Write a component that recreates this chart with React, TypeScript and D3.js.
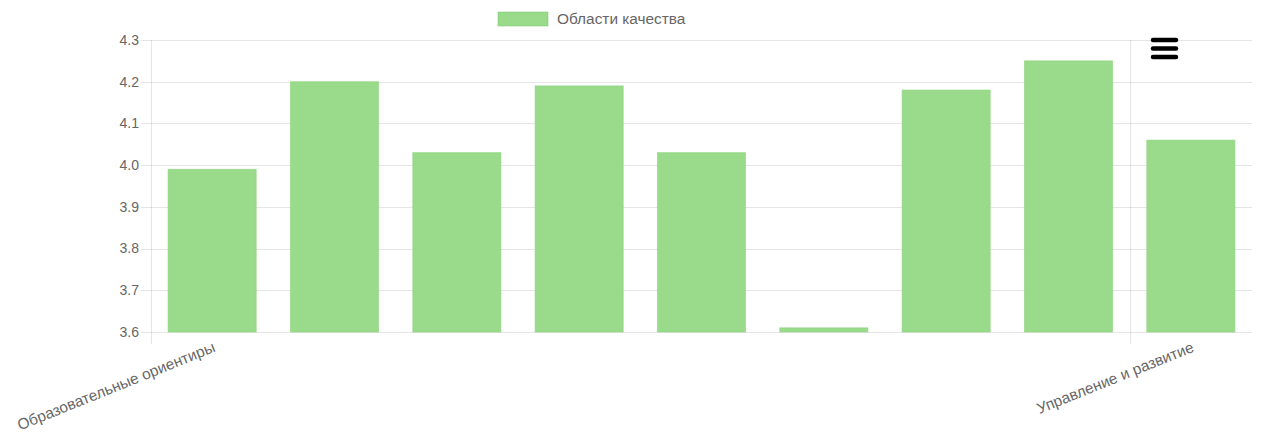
import React from "react";
import * as d3 from "d3";

const categories = [
  "Образовательные ориентиры",
  "Образовательные программы",
  "Содержание образовательной деятельности",
  "Образовательный процесс",
  "Образовательные условия",
  "Условия получения дошкольного образования лицами с ОВЗ",
  "Взаимодействие с родителями",
  "Здоровье, безопасность и повседневный уход",
  "Управление и развитие",
];
const values = [3.99, 4.2, 4.03, 4.19, 4.03, 3.61, 4.18, 4.25, 4.06];
const yTicks = [3.6, 3.7, 3.8, 3.9, 4.0, 4.1, 4.2, 4.3];
const shownLabels = [0, 8];
const seriesName = "Области качества";

const W = 1261;
const H = 438;
const left = 151;
const right = 1252;
const top = 40;
const bottom = 332;
const font = "'Liberation Sans', Arial, Helvetica, sans-serif";
const barColor = "#99db8a";
const gridColor = "rgba(0,0,0,0.1)";

export default function App() {
  const x = d3.scaleBand<number>().domain(d3.range(categories.length)).range([left, right]).paddingInner(0).paddingOuter(0);
  const y = d3.scaleLinear().domain([3.6, 4.3]).range([bottom, top]);
  const bw = x.bandwidth();
  const barW = bw * 0.72;
  return (
    <svg width={W} height={H} style={{ position: "absolute", left: 0, top: 0, background: "#fff" }}>
      {/* legend */}
      <rect x={498} y={12} width={50} height={14} fill={barColor} stroke="rgba(120,200,110,0.5)" strokeWidth={1} />
      <text x={557} y={24} fontFamily={font} fontSize={15.4} fill="#666">{seriesName}</text>
      {/* horizontal grid */}
      {yTicks.map((t) => (
        <g key={t}>
          <line x1={left - 10} x2={right} y1={Math.round(y(t)) + 0.5} y2={Math.round(y(t)) + 0.5} stroke={gridColor} />
          <text x={139} y={y(t)} dy="0.35em" textAnchor="end" fontFamily={font} fontSize={14} fill="#666">{t.toFixed(1)}</text>
        </g>
      ))}
      {/* vertical grid at shown ticks */}
      {shownLabels.map((i) => (
        <line key={i} x1={Math.round(x(i)!) + 0.5} x2={Math.round(x(i)!) + 0.5} y1={top} y2={bottom + 12} stroke={gridColor} />
      ))}
      {/* bars */}
      {values.map((v, i) => {
        const cx = x(i)! + bw / 2;
        return (
          <rect key={i} x={cx - barW / 2} y={y(v)} width={barW} height={bottom - y(v)} fill={barColor} stroke="rgba(140,210,125,0.6)" strokeWidth={1} />
        );
      })}
      {/* x labels */}
      {shownLabels.map((i) => {
        const cx = x(i)! + bw / 2;
        return (
          <text key={i} transform={`translate(${cx},${341}) rotate(-22)`} dy={11} textAnchor="end" fontFamily={font} fontSize={15.4} fill="#666">
            {categories[i]}
          </text>
        );
      })}
      {/* menu icon */}
      {[40, 48.5, 57].map((cy) => (
        <line key={cy} x1={1153} x2={1176} y1={cy} y2={cy} stroke="#000" strokeWidth={4.5} strokeLinecap="round" />
      ))}
    </svg>
  );
}
